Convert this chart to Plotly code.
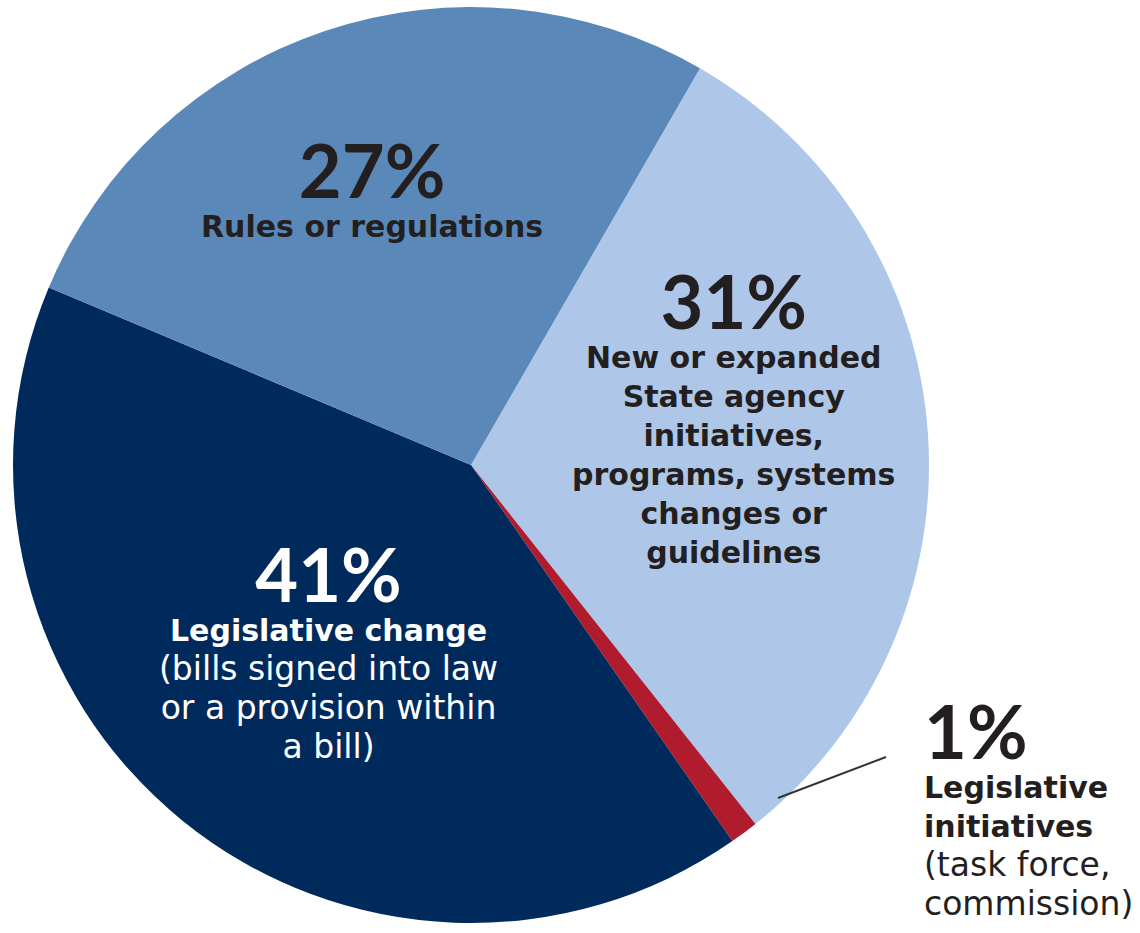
import plotly.graph_objects as go

# Slice data (clockwise from the first slice)
categories = [
    "New or expanded State agency initiatives, programs, systems changes or guidelines",
    "Legislative initiatives (task force, commission)",
    "Legislative change (bills signed into law or a provision within a bill)",
    "Rules or regulations",
]
values = [31, 1, 41, 27]
slice_colors = ["#aec7e8", "#b01c2e", "#002a5c", "#5a89b9"]

# Label text blocks: percent, bold lines, regular lines
pct_labels = ["31%", "1%", "41%", "27%"]
bold_lines = [
    ["New or expanded", "State agency", "initiatives,", "programs, systems", "changes or", "guidelines"],
    ["Legislative", "initiatives"],
    ["Legislative change"],
    ["Rules or regulations"],
]
regular_lines = [
    [],
    ["(task force,", "commission)"],
    ["(bills signed into law", "or a provision within", "a bill)"],
    [],
]
text_colors = ["#231f20", "#231f20", "#ffffff", "#231f20"]

W, H = 1140, 933
BODY_FONT = "DejaVu Sans"
PCT_FONT = "Lato"
PCT_SIZE = 74
TXT_SIZE = 30
REG_SIZE = 33

fig = go.Figure(
    go.Pie(
        labels=categories,
        values=values,
        marker=dict(colors=slice_colors, line=dict(width=0)),
        sort=False,
        direction="clockwise",
        rotation=30,
        textinfo="none",
        hoverinfo="label+percent",
        domain=dict(x=[13 / W, 929 / W], y=[1 - 923 / H, 1 - 7 / H]),
        showlegend=False,
    )
)

# Block anchors in pixels: x, bottom of the last line, horizontal anchor
blocks = [
    (733, 572, "center"),
    (922, 925, "left"),
    (328, 768, "center"),
    (372, 246, "center"),
]

for i in range(len(values)):
    px, bottom, anchor = blocks[i]
    lines = [
        f"<span style='font-family:{PCT_FONT};font-size:{PCT_SIZE}px'><b>{pct_labels[i]}</b></span>"
    ]
    lines += [f"<b>{t}</b>" for t in bold_lines[i]]
    lines += [f"<span style='font-size:{REG_SIZE}px'>{t}</span>" for t in regular_lines[i]]
    fig.add_annotation(
        x=px / W,
        y=1 - bottom / H,
        xref="paper",
        yref="paper",
        xanchor=anchor,
        yanchor="bottom",
        text="<br>".join(lines),
        showarrow=False,
        align=anchor,
        font=dict(family=BODY_FONT, size=TXT_SIZE, color=text_colors[i]),
    )

# Leader line from the small slice to its label
fig.add_shape(
    type="line",
    xref="paper",
    yref="paper",
    x0=778 / W,
    y0=1 - 798 / H,
    x1=886 / W,
    y1=1 - 757 / H,
    line=dict(color="#333333", width=2),
)

fig.update_layout(
    width=W,
    height=H,
    margin=dict(l=0, r=0, t=0, b=0),
    paper_bgcolor="white",
    plot_bgcolor="white",
)

fig.write_html("out.html")
